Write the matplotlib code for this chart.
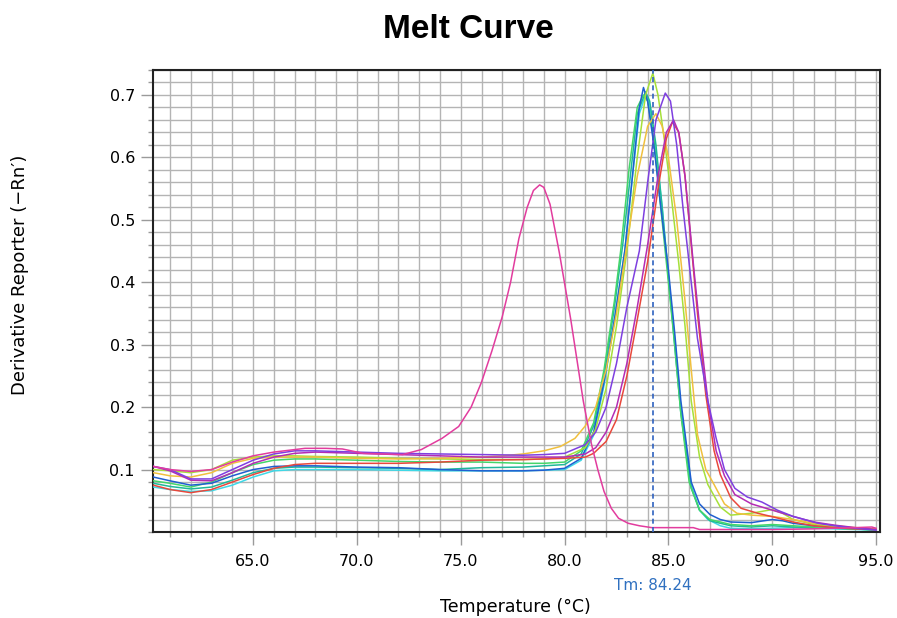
import matplotlib
matplotlib.use('Agg')
import matplotlib.pyplot as plt
from matplotlib.ticker import MultipleLocator, FormatStrFormatter

# melt curve samples: (temperature, -Rn')
pink_t = [60.2, 61, 62, 63, 64, 65, 66, 67, 67.5, 68.5, 69.3, 70.3, 72.2, 73.1, 74.1, 74.9, 75.5, 76.0, 76.5, 77.0,
          77.4, 77.8, 78.2, 78.5, 78.8, 79.0, 79.3, 79.75, 80.3, 80.9, 81.3, 81.6, 81.9, 82.25, 82.6, 83.06, 83.6,
          84.2, 86.2, 86.5, 90, 92, 94, 94.8, 95]
pink_y = [0.105, 0.100, 0.097, 0.100, 0.112, 0.122, 0.128, 0.132, 0.134, 0.134, 0.133, 0.126, 0.124, 0.132, 0.150,
          0.169, 0.200, 0.240, 0.290, 0.345, 0.400, 0.470, 0.520, 0.547, 0.556, 0.552, 0.525, 0.447, 0.340, 0.210,
          0.140, 0.100, 0.065, 0.038, 0.022, 0.014, 0.010, 0.007, 0.007, 0.004, 0.004, 0.005, 0.007, 0.008, 0.006]

blue_t = [60.2, 61, 62, 63, 64, 65, 66, 67, 68, 70, 72, 74, 76, 78, 79, 80, 80.8, 81.4, 81.9, 82.4, 82.9, 83.3, 83.6,
          83.8, 84.0, 84.3, 84.6, 85.0, 85.3, 85.6, 86.1, 86.5, 87, 87.5, 88, 89, 90, 90.5, 91, 92, 93, 94, 95]
blue_y = [0.088, 0.082, 0.075, 0.078, 0.090, 0.100, 0.105, 0.106, 0.106, 0.104, 0.103, 0.100, 0.098, 0.098, 0.099,
          0.102, 0.118, 0.160, 0.240, 0.340, 0.450, 0.580, 0.680, 0.712, 0.690, 0.620, 0.530, 0.420, 0.320, 0.210,
          0.080, 0.045, 0.028, 0.020, 0.016, 0.015, 0.020, 0.018, 0.014, 0.010, 0.008, 0.006, 0.004]

cyan_t = [60.2, 61, 62, 63, 64, 65, 66, 67, 68, 70, 72, 74, 76, 78, 79, 80, 80.8, 81.4, 81.9, 82.4, 82.9, 83.3, 83.6,
          83.9, 84.1, 84.4, 84.7, 85.0, 85.3, 85.6, 86.1, 86.5, 86.9, 87.5, 88, 89, 90, 91, 92, 93, 94, 95]
cyan_y = [0.072, 0.068, 0.065, 0.066, 0.075, 0.088, 0.098, 0.100, 0.100, 0.100, 0.099, 0.098, 0.098, 0.098, 0.099,
          0.100, 0.115, 0.155, 0.235, 0.340, 0.450, 0.580, 0.670, 0.700, 0.685, 0.610, 0.520, 0.410, 0.310, 0.200,
          0.075, 0.035, 0.020, 0.010, 0.006, 0.005, 0.006, 0.007, 0.006, 0.005, 0.004, 0.003]

teal_t = [60.2, 61, 62, 63, 64, 65, 66, 67, 68, 70, 72, 74, 76, 78, 79, 80, 80.8, 81.4, 81.9, 82.4, 82.8, 83.2, 83.5,
          83.9, 84.1, 84.4, 84.7, 85.0, 85.3, 85.6, 86.1, 86.5, 87, 88, 89, 90, 91, 92, 93, 94, 95]
teal_y = [0.078, 0.073, 0.069, 0.072, 0.083, 0.095, 0.102, 0.104, 0.104, 0.103, 0.102, 0.100, 0.103, 0.104, 0.106,
          0.108, 0.125, 0.170, 0.250, 0.360, 0.460, 0.580, 0.670, 0.705, 0.690, 0.620, 0.520, 0.410, 0.300, 0.190,
          0.070, 0.035, 0.018, 0.010, 0.008, 0.010, 0.008, 0.007, 0.006, 0.005, 0.003]

green_t = [60.2, 61, 62, 63, 64, 65, 66, 67, 68, 70, 72, 74, 76, 78, 79, 80, 80.8, 81.4, 81.9, 82.4, 82.7, 83.1, 83.5,
           83.8, 84.0, 84.3, 84.6, 85.0, 85.3, 85.6, 86.0, 86.5, 87, 88, 89, 90, 91, 92, 93, 94, 95]
green_y = [0.082, 0.078, 0.072, 0.080, 0.095, 0.108, 0.115, 0.117, 0.117, 0.115, 0.113, 0.112, 0.112, 0.110, 0.110,
           0.112, 0.130, 0.175, 0.260, 0.370, 0.450, 0.580, 0.680, 0.700, 0.690, 0.630, 0.530, 0.400, 0.300, 0.190,
           0.080, 0.035, 0.020, 0.012, 0.010, 0.012, 0.010, 0.008, 0.006, 0.005, 0.003]

lime_t = [60.2, 61, 62, 63, 64, 65, 66, 67, 68, 70, 72, 74, 76, 78, 79, 80, 81, 81.5, 82, 82.5, 83, 83.5, 83.9,
          84.25, 84.5, 84.8, 85.1, 85.5, 85.8, 86.1, 86.5, 86.9, 87.5, 88, 89, 90, 90.5, 91, 92, 93, 94, 95]
lime_y = [0.100, 0.098, 0.095, 0.100, 0.115, 0.120, 0.122, 0.122, 0.121, 0.120, 0.118, 0.117, 0.116, 0.116, 0.117,
          0.120, 0.135, 0.165, 0.230, 0.330, 0.450, 0.600, 0.700, 0.735, 0.700, 0.630, 0.550, 0.430, 0.330, 0.210,
          0.120, 0.076, 0.040, 0.027, 0.030, 0.036, 0.030, 0.020, 0.012, 0.008, 0.006, 0.004]

yellow_t = [60.2, 61, 62, 63, 64, 65, 66, 67, 68, 70, 72, 74, 76, 77, 78, 79, 79.8, 80.5, 81, 81.5, 82, 82.5, 83,
            83.5, 84, 84.4, 84.7, 85, 85.4, 85.8, 86.1, 86.4, 86.8, 87.2, 87.7, 88.3, 89, 90, 91, 92, 93, 94, 95]
yellow_y = [0.095, 0.090, 0.088, 0.095, 0.110, 0.118, 0.120, 0.120, 0.120, 0.118, 0.117, 0.118, 0.120, 0.122, 0.125,
            0.130, 0.137, 0.150, 0.170, 0.200, 0.260, 0.350, 0.460, 0.570, 0.650, 0.670, 0.650, 0.600, 0.500, 0.370,
            0.260, 0.156, 0.100, 0.076, 0.045, 0.030, 0.027, 0.025, 0.020, 0.014, 0.010, 0.007, 0.005]

purple_t = [60.2, 61, 62, 63, 64, 65, 66, 67, 68, 70, 72, 74, 76, 78, 79, 80, 81, 81.5, 82, 82.5, 83, 83.6, 84,
            84.4, 84.85, 85.1, 85.4, 85.7, 86.0, 86.4, 86.9, 87.3, 87.7, 88.2, 88.8, 89.5, 90.25, 91, 92.2, 93, 94, 95]
purple_y = [0.105, 0.100, 0.085, 0.085, 0.100, 0.115, 0.125, 0.130, 0.130, 0.128, 0.126, 0.125, 0.124, 0.123, 0.124,
            0.126, 0.140, 0.160, 0.200, 0.270, 0.360, 0.450, 0.560, 0.660, 0.703, 0.690, 0.620, 0.520, 0.430, 0.310,
            0.210, 0.150, 0.100, 0.070, 0.056, 0.048, 0.035, 0.025, 0.014, 0.010, 0.006, 0.003]

red_t = [60.2, 61, 62, 63, 64, 65, 66, 67, 68, 70, 72, 74, 76, 78, 79, 80, 81, 81.4, 82, 82.5, 83, 83.5, 84.0, 84.5,
         84.9, 85.2, 85.5, 85.8, 86.1, 86.4, 86.8, 87.2, 87.5, 88, 88.5, 89.3, 90.06, 91, 92, 93, 94, 95]
red_y = [0.075, 0.068, 0.063, 0.068, 0.080, 0.092, 0.102, 0.108, 0.110, 0.110, 0.110, 0.112, 0.115, 0.116, 0.117,
         0.118, 0.120, 0.126, 0.145, 0.180, 0.250, 0.340, 0.433, 0.550, 0.630, 0.657, 0.640, 0.570, 0.460, 0.350,
         0.220, 0.130, 0.092, 0.055, 0.038, 0.030, 0.024, 0.016, 0.010, 0.007, 0.005, 0.004]

magenta_t = [60.2, 61, 62, 63, 64, 65, 66, 67, 68, 70, 72, 74, 76, 78, 79, 80, 81, 81.5, 82, 82.5, 83, 83.5, 84, 84.5,
             84.9, 85.25, 85.5, 85.8, 86.2, 86.5, 86.9, 87.3, 87.7, 88.2, 89, 90, 91, 92, 93, 94, 95]
magenta_y = [0.105, 0.098, 0.083, 0.082, 0.095, 0.110, 0.120, 0.126, 0.128, 0.126, 0.124, 0.122, 0.120, 0.120, 0.120,
             0.120, 0.125, 0.135, 0.160, 0.200, 0.270, 0.360, 0.460, 0.570, 0.640, 0.660, 0.640, 0.570, 0.430, 0.330,
             0.210, 0.130, 0.090, 0.060, 0.045, 0.035, 0.025, 0.016, 0.011, 0.007, 0.004]

curves = [
    (cyan_t, cyan_y, '#3fd8e6'),
    (teal_t, teal_y, '#1fb89a'),
    (green_t, green_y, '#44d66a'),
    (blue_t, blue_y, '#1f5fd0'),
    (lime_t, lime_y, '#a6e03a'),
    (yellow_t, yellow_y, '#f0c03e'),
    (red_t, red_y, '#e8483c'),
    (magenta_t, magenta_y, '#b42cb4'),
    (purple_t, purple_y, '#7e3fe0'),
    (pink_t, pink_y, '#e23c9e'),
]
tm = 84.24

fig = plt.figure(figsize=(8.97, 6.18), dpi=100)
ax = fig.add_axes([153/897, 1-532/618, (880-153)/897, (532-70)/618])

for t, y, c in curves:
    ax.plot(t, y, color=c, lw=1.1, zorder=3)
ax.axvline(tm, color='#2f62c0', lw=1.2, ls=(0, (3, 2)), zorder=4)

ax.set_xlim(60.18, 95.19)
ax.set_ylim(0, 0.74)
ax.xaxis.set_major_locator(MultipleLocator(5))
ax.xaxis.set_minor_locator(MultipleLocator(1))
ax.yaxis.set_major_locator(MultipleLocator(0.1))
ax.yaxis.set_minor_locator(MultipleLocator(0.02))
ax.xaxis.set_major_formatter(FormatStrFormatter('%.1f'))
ax.yaxis.set_major_formatter(FormatStrFormatter('%.1f'))
ax.set_yticks([0.1, 0.2, 0.3, 0.4, 0.5, 0.6, 0.7])
ax.grid(which='both', color='#b4b4b4', lw=1.0, zorder=0)
ax.tick_params(which='major', direction='out', length=9, width=1, color='#9a9a9a', labelsize=11.5, pad=4)
ax.tick_params(which='minor', direction='out', length=3.5, width=1, color='#9a9a9a')
ax.tick_params(axis='x', which='major', pad=7)
for s in ax.spines.values():
    s.set_color('#222222')
    s.set_linewidth(1.5)

fig.text(468/897, 1-30/618, 'Melt Curve', ha='center', va='center', fontsize=24, fontweight='bold',
         family='Liberation Sans')
fig.text(515/897, 1-607/618, 'Temperature (°C)', ha='center', va='center', fontsize=12.5)
fig.text(20/897, 1-275/618, 'Derivative Reporter (\u2212Rn\u2032)', ha='center', va='center', rotation=90,
         fontsize=13)
ax.text(tm, -0.085, 'Tm: 84.24', ha='center', va='center', fontsize=11, color='#2f70c0', clip_on=False)

fig.savefig('out.png', dpi=100)
